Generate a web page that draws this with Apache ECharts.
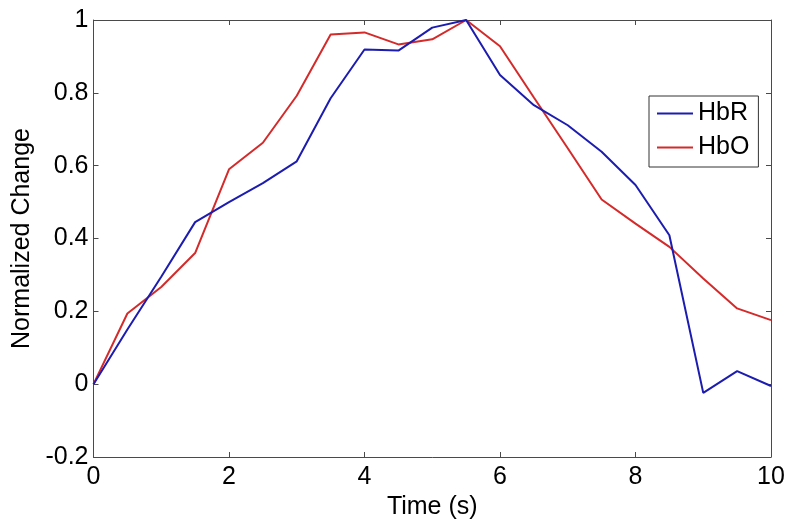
<!DOCTYPE html>
<html>
<head>
<meta charset="utf-8">
<script src="https://cdn.jsdelivr.net/npm/echarts@6/dist/echarts.min.js"></script>
<style>
html,body{margin:0;padding:0;background:#fff;}
#chart{width:795px;height:526px;}
</style>
</head>
<body>
<div id="chart"></div>
<script>
const timeValues = [0, 0.5, 1, 1.5, 2, 2.5, 3, 3.5, 4, 4.5, 5, 5.5, 6, 6.5, 7, 7.5, 8, 8.5, 9, 9.5, 10];
const hbrValues = [0, 0.15, 0.295, 0.445, 0.50, 0.552, 0.612, 0.785, 0.919, 0.916, 0.979, 1.0, 0.849, 0.766, 0.711, 0.638, 0.547, 0.409, -0.024, 0.036, -0.005];
const hboValues = [0, 0.194, 0.267, 0.36, 0.59, 0.663, 0.792, 0.96, 0.966, 0.933, 0.947, 1.0, 0.928, 0.787, 0.648, 0.507, 0.441, 0.377, 0.29, 0.208, 0.176];
const seriesNames = ['HbR', 'HbO'];
const xTitle = 'Time (s)';
const yTitle = 'Normalized Change';

const font = '"Liberation Sans", Arial, Helvetica, sans-serif';
const axisCol = '#4a4a4a';
const chart = echarts.init(document.getElementById('chart'));

function pairs(xs, ys){ return xs.map((x,i)=>[x, ys[i]]); }

const baseX = {
  type: 'value', min: 0, max: 10, interval: 2,
  axisLine: {show: true, onZero: false, lineStyle: {color: axisCol, width: 1}},
  axisTick: {show: true, inside: true, length: 5, lineStyle: {color: axisCol}},
  splitLine: {show: false}
};
const baseY = {
  type: 'value', min: -0.2, max: 1, interval: 0.2,
  axisLine: {show: true, onZero: false, lineStyle: {color: axisCol, width: 1}},
  axisTick: {show: true, inside: true, length: 5, lineStyle: {color: axisCol}},
  splitLine: {show: false}
};

chart.setOption({
  animation: false,
  backgroundColor: '#fff',
  grid: {left: 93.5, right: 24, top: 20, bottom: 69},
  legend: {
    left: 649, top: 96, orient: 'vertical',
    data: seriesNames,
    icon: 'rect', itemWidth: 36, itemHeight: 2, itemGap: 9,
    padding: [5, 9, 7, 8],
    borderColor: '#333', borderWidth: 1, backgroundColor: '#fff',
    textStyle: {fontFamily: font, fontSize: 25, color: '#000'}
  },
  xAxis: [
    Object.assign({}, baseX, {
      position: 'bottom',
      name: xTitle, nameLocation: 'middle', nameGap: 32,
      nameTextStyle: {fontFamily: font, fontSize: 25, color: '#000'},
      axisLabel: {margin: 8, fontFamily: font, fontSize: 25, color: '#000'}
    }),
    Object.assign({}, baseX, {position: 'top', axisLabel: {show: false}})
  ],
  yAxis: [
    Object.assign({}, baseY, {
      position: 'left',
      name: yTitle, nameLocation: 'middle', nameGap: 58,
      nameTextStyle: {fontFamily: font, fontSize: 25, color: '#000'},
      axisLabel: {margin: 5, fontFamily: font, fontSize: 25, color: '#000'}
    }),
    Object.assign({}, baseY, {position: 'right', axisLabel: {show: false}})
  ],
  series: [
    {name: seriesNames[0], type: 'line', data: pairs(timeValues, hbrValues), symbol: 'none',
     color: '#1c1cb0', lineStyle: {width: 2, color: '#1c1cb0'}, z: 3},
    {name: seriesNames[1], type: 'line', data: pairs(timeValues, hboValues), symbol: 'none',
     color: '#d42a2a', lineStyle: {width: 2, color: '#d42a2a'}, z: 2}
  ]
});
</script>
</body>
</html>
